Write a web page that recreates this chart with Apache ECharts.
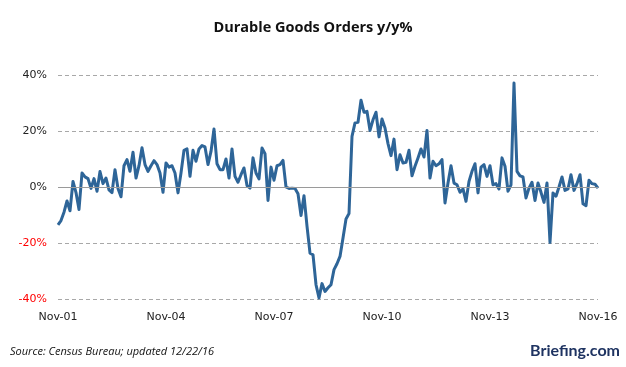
<!DOCTYPE html>
<html><head><meta charset="utf-8">
<script src="https://cdn.jsdelivr.net/npm/echarts/dist/echarts.min.js"></script>
<style>html,body{margin:0;padding:0;background:#fff}#c{width:626px;height:367px}</style>
</head><body><div id="c"></div>
<script>
// Monthly y/y % change, Nov-2001 .. Nov-2016
const values = [
-13.5,-12,-9,-5,-8.5,2,-2,-8,5,3.6,
3,-0.5,3,-1.5,5.5,1.2,3.2,-1,-2,6.2,
-0.5,-3.5,7.6,9.8,5.6,12.4,3.2,7.6,14,8,
5.6,7.6,9.4,8,5,-1.9,8.6,7.1,7.6,5,
-2.1,5,13.1,13.6,3.8,13.1,9.2,13.6,14.8,14.3,
8,12.7,20.7,8.3,6.2,6.2,10,3.2,13.6,3.8,
1.7,4.4,6.8,0.5,-0.4,10.4,5,2.9,13.9,11.9,
-4.8,7.1,2.4,7.6,8,9.5,0,-0.5,-0.4,-0.5,
-2.4,-10.2,-3.1,-14,-23.6,-24.2,-34.9,-39.6,-34.5,-37.3,
-36,-34.9,-29.5,-27.4,-24.8,-18.2,-11.4,-9.5,18.1,22.9,
23.1,31,26.7,27,20.2,24,26.7,17.9,24.3,21.1,
15.5,11.2,17.1,6.2,11.5,8.6,8.8,13.1,4,7.4,
10.4,13.6,10.7,20.2,3.2,9.2,7.6,8.3,9.8,-5.7,
1.4,7.6,1.4,0.8,-1.9,-0.7,-5.1,2,5.6,8.3,
-2.1,7.1,8,3.8,7.6,0.8,1.2,-0.7,10.4,7.4,
-1.5,0.8,37.1,5.6,4,3.6,-3.9,-0.4,1.7,-4.8,
1.4,-1.9,-5.5,1.4,-19.8,-2.1,-3.3,0,3.6,-1.2,
-0.7,4.4,-1.2,1.2,4.4,-6,-6.7,2.4,1.2,1,
-0.4
];
const monthNames = ["Jan","Feb","Mar","Apr","May","Jun","Jul","Aug","Sep","Oct","Nov","Dec"];
const startYear = 2001, startMonth = 10;
const tickLabels = ["Nov-01","Nov-04","Nov-07","Nov-10","Nov-13","Nov-16"];
const yTicks = [-40,-20,0,20,40];

const categories = values.map((_, i) => {
  const m = startMonth + i;
  const y = startYear + Math.floor(m / 12);
  return monthNames[m % 12] + "-" + String(y % 100).padStart(2, "0");
});

const chart = echarts.init(document.getElementById('c'), null, {renderer: 'canvas'});
chart.setOption({
  animation: false,
  backgroundColor: '#ffffff',
  title: {
    text: 'Durable Goods Orders y/y%',
    left: 'center', top: 15,
    textStyle: {fontFamily: 'Open Sans', fontWeight: 'bold', fontSize: 14.5, color: '#111'}
  },
  grid: {left: 58, right: 28, top: 75, bottom: 68, containLabel: false},
  xAxis: {
    type: 'category', data: categories, boundaryGap: false,
    axisLine: {show: false}, axisTick: {show: false},
    axisLabel: {
      interval: 35, margin: 13,
      fontFamily: 'DejaVu Sans', fontSize: 11, color: '#222',
      formatter: v => tickLabels.includes(v) ? v : ''
    },
    splitLine: {show: false}
  },
  yAxis: {
    type: 'value', min: yTicks[0], max: yTicks[yTicks.length - 1], interval: 20,
    axisLine: {show: false}, axisTick: {show: false},
    axisLabel: {
      margin: 11, fontFamily: 'DejaVu Sans', fontSize: 11,
      formatter: v => v + '%',
      color: v => (Number(v) < 0 ? '#ff0000' : '#222')
    },
    splitLine: {show: true, lineStyle: {type: [4, 3], color: '#a8a8a8', width: 1}}
  },
  series: [
    {
      type: 'line', data: [], z: 1, silent: true,
      markLine: {
        silent: true, symbol: 'none', label: {show: false},
        lineStyle: {type: 'solid', color: '#9a9a9a', width: 1},
        data: [{yAxis: 0}]
      }
    },
    {
      type: 'line', data: values, z: 3,
      showSymbol: false, symbol: 'none', smooth: false,
      lineStyle: {color: '#2e6598', width: 3, join: 'round'}
    }
  ],
  graphic: [
    {type: 'text', x: 10, y: 352,
     style: {text: 'Source: Census Bureau; updated 12/22/16', fontFamily: 'Open Sans', fontStyle: 'italic', fontSize: 11, fill: '#111', align: 'left', verticalAlign: 'middle'}},
    {type: 'text', x: 620, y: 351,
     style: {text: 'Briefing.com', fontFamily: 'Lato', fontWeight: 'bold', fontSize: 16, fill: '#1e3361', align: 'right', verticalAlign: 'middle'}}
  ]
});
</script></body></html>
